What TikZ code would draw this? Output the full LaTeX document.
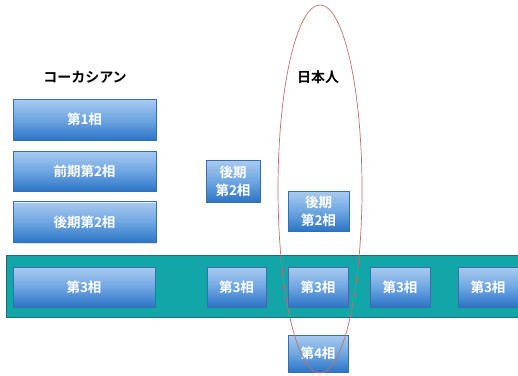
\documentclass[tikz,border=0pt]{standalone}
\usepackage{fontspec}
\usetikzlibrary{shapes.geometric,shadows}
\newfontfamily\jp{Noto Sans CJK JP}[BoldFont={Noto Sans CJK JP Bold}]
\definecolor{bandteal}{HTML}{13A6A8}
\definecolor{bandedge}{HTML}{1C6E74}
\definecolor{boxtop}{HTML}{A9CBEF}
\definecolor{boxmid}{HTML}{6FA6E2}
\definecolor{boxbot}{HTML}{2C74C6}
\definecolor{boxedge}{HTML}{3A6EA8}
\definecolor{ringred}{HTML}{C0706A}
\begin{document}
\begin{tikzpicture}[x=1pt,y=-1pt,
  phase/.style={rectangle, top color=boxtop, bottom color=boxbot, middle color=boxmid,
    draw=boxedge, line width=0.4pt, text=white, font=\jp\bfseries\fontsize{13.5}{18}\selectfont,
    align=center, inner sep=0pt, minimum height=40pt,
    drop shadow={opacity=0.25, shadow xshift=1pt, shadow yshift=-1.2pt},
    path picture={\draw[line width=2pt, color=white!70!boxtop]
      (path picture bounding box.north west) -- (path picture bounding box.north east);}},
  heading/.style={font=\jp\bfseries\fontsize{14}{16}\selectfont, text=black, inner sep=0pt},
  band/.style={rectangle, fill=bandteal, draw=bandedge, line width=0.8pt, inner sep=0pt}]
\useasboundingbox (0,0) rectangle (518,375);
% teal band
\node[band, minimum width=514pt, minimum height=62pt] (band) at (263,286) {};
% headings
\node[heading] (cauc) at (85,77) {コーカシアン};
\node[heading] (jpn) at (318,77) {日本人};
% Caucasian column
\node[phase, minimum width=143pt, minimum height=41pt] (p1) at (84.5,119.5) {第1相};
\node[phase, minimum width=143pt] (p2e) at (84.5,171) {前期第2相};
\node[phase, minimum width=143pt, minimum height=41pt] (p2l) at (84.5,222) {後期第2相};
\node[phase, minimum width=142pt] (p3a) at (84,287) {第3相};
% second column
\node[phase, minimum width=54pt, minimum height=42pt] (q2l) at (233,181) {後期\\第2相};
\node[phase, minimum width=59pt] (q3) at (236.5,287) {第3相};
% Japanese column
\node[phase, minimum width=61pt] (j2l) at (318.5,211) {後期\\第2相};
\node[phase, minimum width=60pt] (j3) at (318,287) {第3相};
\node[phase, minimum width=60pt, minimum height=37pt] (j4) at (318,353.5) {第4相};
% further columns
\node[phase, minimum width=60pt] (r3) at (400,287) {第3相};
\node[phase, minimum width=60pt] (s3) at (488,287) {第3相};
% ellipse
\node[ellipse, draw=ringred, line width=0.7pt, minimum width=84pt, minimum height=368pt, inner sep=0pt] (ring) at (320,189) {};
\end{tikzpicture}
\end{document}
